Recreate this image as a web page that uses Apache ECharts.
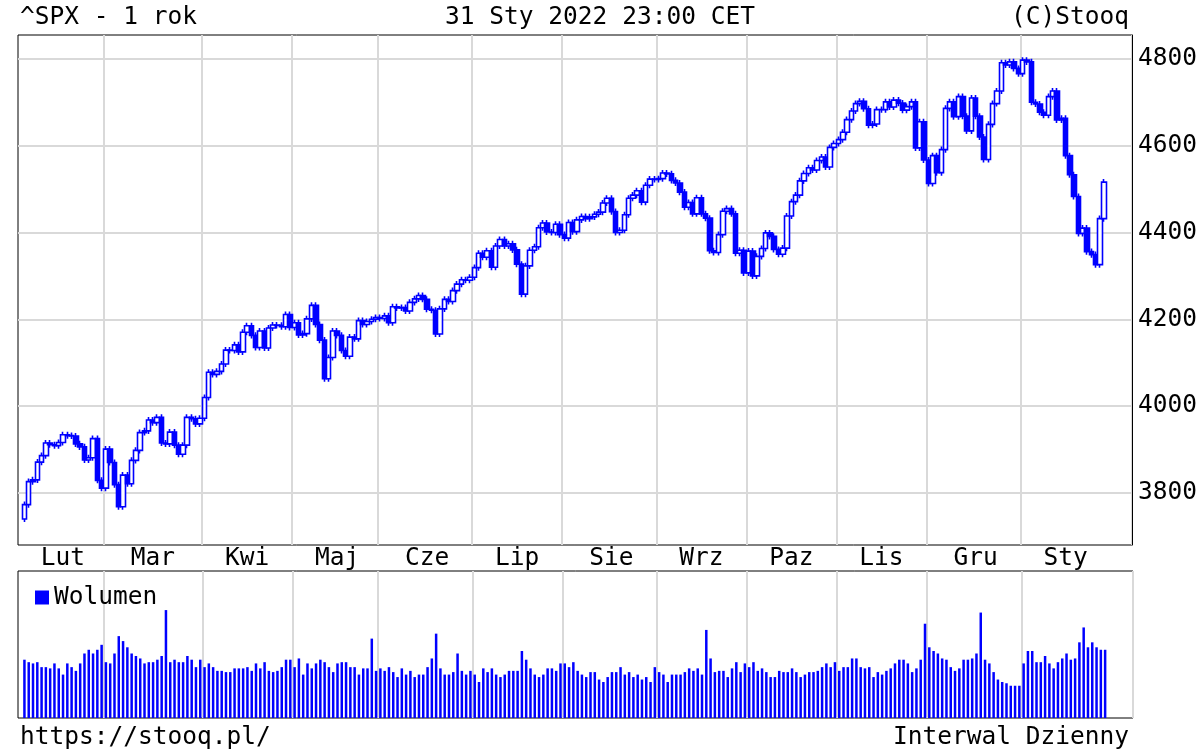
<!DOCTYPE html>
<html><head><meta charset="utf-8">
<script src="https://cdn.jsdelivr.net/npm/echarts@6/dist/echarts.min.js"></script>
<style>html,body{margin:0;padding:0;background:#fff}#c{width:1200px;height:750px}</style>
</head><body><div id="c"></div>
<script>
const monthLabels = ['Lut','Mar','Kwi','Maj','Cze','Lip','Sie','Wrz','Paz','Lis','Gru','Sty'];
const yTicks = [3800,4000,4200,4400,4600,4800];
const holidays = ['2021-02-15','2021-04-02','2021-05-31','2021-07-05','2021-09-06','2021-11-25','2021-12-24','2022-01-17'];
const closes = [
3773,3826,3830,3871,3886,3915,3911,3909,3916,3934,3932,3931,3913,3906,3876,3881,3925,3829,3811,
3901,3870,3819,3768,3841,3821,3875,3898,3939,3943,3968,3962,3974,3915,3913,3940,3910,3889,3910,3974,3971,3959,3972,
4020,4078,4073,4080,4097,4129,4128,4141,4125,4170,4185,4163,4135,4173,4134,4180,4187,4186,4183,4211,4181,
4192,4164,4167,4201,4232,4188,4152,4063,4112,4173,4163,4128,4115,4159,4155,4197,4188,4195,4200,4204,
4202,4208,4192,4229,4226,4227,4219,4239,4247,4255,4246,4223,4221,4166,4224,4246,4241,4266,4281,4291,4290,4297,
4319,4352,4343,4358,4320,4369,4384,4369,4374,4360,4327,4258,4323,4359,4367,4411,4422,4401,4400,4419,4395,
4387,4423,4402,4429,4437,4432,4436,4442,4447,4468,4479,4448,4400,4405,4441,4479,4486,4496,4470,4509,4523,4522,
4524,4537,4535,4520,4514,4493,4458,4469,4443,4480,4443,4433,4358,4354,4395,4449,4455,4443,4352,4359,4307,
4357,4300,4345,4363,4399,4391,4361,4350,4364,4438,4471,4486,4519,4536,4549,4544,4566,4574,4551,4596,4605,
4614,4631,4660,4680,4697,4702,4685,4647,4650,4683,4683,4701,4689,4705,4698,4682,4690,4701,4595,4655,4567,
4513,4577,4538,4591,4686,4701,4667,4713,4668,4634,4710,4668,4620,4568,4649,4697,4726,4791,4786,4793,4778,4766,
4797,4793,4700,4696,4677,4670,4713,4726,4659,4663,4577,4533,4483,4398,4410,4356,4349,4326,4432,4516];
const volumes = [
4.7,4.5,4.4,4.5,4.1,4.1,4.0,4.4,4.0,3.5,4.4,4.1,3.8,4.4,5.2,5.5,5.2,5.5,5.9,
4.5,4.4,5.2,6.6,6.2,5.7,5.2,5.0,4.8,4.4,4.5,4.5,4.7,5.0,8.7,4.5,4.7,4.5,4.5,5.0,4.7,4.1,4.7,
4.1,4.4,4.1,3.8,3.8,3.7,3.7,4.0,4.0,4.0,4.1,3.8,4.4,4.0,4.5,3.8,3.7,3.8,4.1,4.7,4.7,
4.1,4.8,3.5,4.4,4.0,4.4,4.7,4.5,4.1,3.7,4.4,4.5,4.5,4.1,4.1,3.5,4.0,4.0,6.4,3.8,
4.0,3.8,4.1,3.7,3.3,4.0,3.5,3.8,3.3,3.5,3.5,4.1,4.8,6.8,4.0,3.5,3.5,3.7,5.2,3.8,3.5,3.8,
3.5,2.9,4.0,3.7,4.0,3.5,3.3,3.5,3.8,3.8,3.8,5.4,4.7,4.0,3.5,3.3,3.5,4.0,4.0,3.8,4.4,
4.4,4.1,4.5,3.8,3.5,3.3,3.7,3.7,3.1,2.9,3.3,3.7,3.7,4.1,3.5,3.7,3.3,3.5,3.1,3.3,2.9,4.1,
3.7,3.5,2.9,3.5,3.5,3.5,3.7,4.0,3.8,4.0,3.5,7.1,4.8,3.7,3.8,3.8,3.3,4.0,4.5,3.7,4.4,
4.1,4.5,3.8,4.0,3.7,3.3,3.3,3.8,3.7,3.7,4.0,3.7,3.3,3.5,3.7,3.7,3.8,4.1,4.4,4.1,4.5,
3.8,4.1,4.1,4.8,4.8,4.1,4.0,4.1,3.3,3.7,3.5,3.8,4.0,4.4,4.7,4.7,4.4,3.7,4.0,4.7,7.6,
5.7,5.4,5.2,4.8,4.7,4.1,3.8,4.0,4.7,4.7,4.8,5.2,8.5,4.7,4.4,3.7,3.1,2.9,2.8,2.6,2.6,2.6,
4.4,5.4,5.4,4.5,4.5,5.0,4.4,4.0,4.5,4.8,5.2,4.7,4.8,6.1,7.3,5.7,6.1,5.7,5.5,5.5];
const firstOpen = 3740;
const padFront = 1, padBack = 6;

function fmt(d){return d.toISOString().slice(0,10);}
const trade=[];
for(let d=new Date(Date.UTC(2021,1,1)); d<=new Date(Date.UTC(2022,0,31)); d.setUTCDate(d.getUTCDate()+1)){
  const s=fmt(d), wd=d.getUTCDay();
  if(wd>0&&wd<6&&!holidays.includes(s)) trade.push(s);
}
const n=Math.min(trade.length,closes.length);
const cats=[];
for(let i=0;i<padFront;i++) cats.push('padf'+i);
trade.slice(0,n).forEach(s=>cats.push(s));
for(let i=0;i<padBack;i++) cats.push('padb'+i);
const kData=cats.map(()=>'-'), vData=cats.map(()=>'-');
for(let i=0;i<n;i++){
  const o=i?closes[i-1]:firstOpen, c=closes[i];
  kData[i+padFront]=[o,c,Math.min(o,c)-7,Math.max(o,c)+7];
  vData[i+padFront]=volumes[i];
}
const starts=new Set(), mids={};
const groups={};
for(let i=0;i<n;i++){const m=trade[i].slice(0,7); (groups[m]=groups[m]||[]).push(i+padFront);}
Object.keys(groups).forEach((m,k)=>{const g=groups[m]; if(k>0) starts.add(g[0]); mids[g[Math.floor(g.length/2)]]=monthLabels[k];});
const isStart=(i)=>starts.has(i);
const isMid=(i)=>mids[i]!==undefined;
const F='DejaVu Sans Mono';
const FS=24.5;
const blue='#0000ff';
const ts={fontFamily:F,fontSize:FS,fontWeight:'normal',color:'#000'};
const chart=echarts.init(document.getElementById('c'));
chart.setOption({
  animation:false,
  textStyle:{fontFamily:F},
  title:[
    {text:'^SPX - 1 rok',left:15,top:0,textStyle:ts},
    {text:'31 Sty 2022 23:00 CET',left:'center',top:0,textStyle:ts},
    {text:'(C)Stooq',right:66,top:0,textStyle:ts},
    {text:'https://stooq.pl/',left:15,top:720,textStyle:ts},
    {text:'Interwal Dzienny',right:66,top:720,textStyle:ts}
  ],
  legend:{data:['Wolumen'],left:30,top:580,icon:'rect',itemWidth:14,itemHeight:14,itemGap:6,
    textStyle:{fontFamily:F,fontSize:FS,color:'#000'}},
  grid:[
    {left:18,right:67,top:35,height:510,show:true,borderColor:'#000',borderWidth:1},
    {left:18,right:67,top:571,height:147,show:true,borderColor:'#000',borderWidth:1}
  ],
  xAxis:[
    {type:'category',gridIndex:0,data:cats,boundaryGap:true,
     axisLine:{show:false},axisTick:{show:false},
     splitLine:{show:true,interval:isStart,lineStyle:{color:'#d9d9d9',width:2}},
     axisLabel:{interval:isMid,formatter:(v,i)=>mids[i]||'',fontFamily:F,fontSize:FS,color:'#000',margin:1}},
    {type:'category',gridIndex:1,data:cats,boundaryGap:true,
     axisLine:{show:false},axisTick:{show:false},axisLabel:{show:false},
     splitLine:{show:true,interval:isStart,lineStyle:{color:'#d9d9d9',width:2}}}
  ],
  yAxis:[
    {type:'value',gridIndex:0,position:'right',min:3680,max:4855,interval:40,
     axisLine:{show:true,lineStyle:{color:'#000'}},axisTick:{show:false},splitLine:{show:false},
     axisLabel:{formatter:v=>yTicks.includes(v)?String(v):'',fontFamily:F,fontSize:FS,color:'#000',margin:6}},
    {type:'value',gridIndex:1,min:0,max:11.85,show:false,splitLine:{show:false}}
  ],
  series:[
    {type:'candlestick',name:'SPX',xAxisIndex:0,yAxisIndex:0,data:kData,barWidth:5,
     itemStyle:{color:'#fff',color0:blue,borderColor:blue,borderColor0:blue,borderWidth:1.6},
     markLine:{silent:true,symbol:'none',label:{show:false},lineStyle:{color:'#d9d9d9',width:2,type:'solid'},
       data:yTicks.map(v=>({yAxis:v})),z:0}},
    {type:'bar',name:'Wolumen',xAxisIndex:1,yAxisIndex:1,data:vData,barWidth:2.5,itemStyle:{color:blue}}
  ]
});
</script></body></html>
